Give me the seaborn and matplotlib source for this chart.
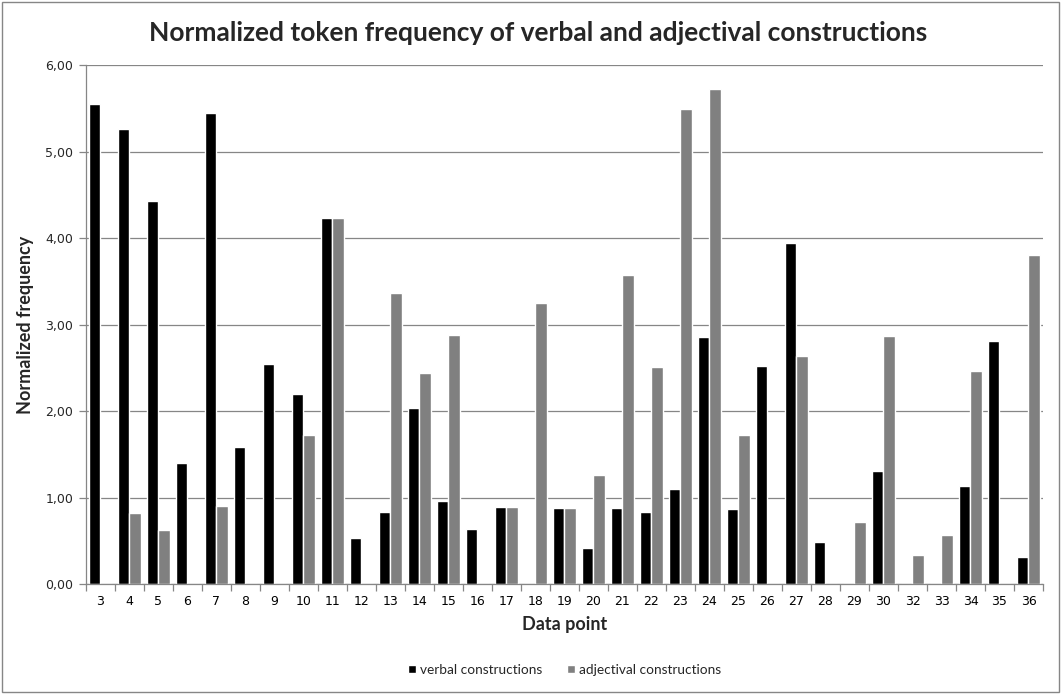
import pandas as pd
import matplotlib.pyplot as plt
import seaborn as sns
from matplotlib.ticker import FuncFormatter, FixedLocator

# --- data
data_points = ['3', '4', '5', '6', '7', '8', '9', '10', '11', '12', '13', '14', '15', '16', '17', '18',
               '19', '20', '21', '22', '23', '24', '25', '26', '27', '28', '29', '30', '32', '33', '34', '35', '36']
verbal = [5.55, 5.26, 4.43, 1.40, 5.45, 1.58, 2.55, 2.20, 4.23, 0.53, 0.83, 2.03, 0.96, 0.64, 0.89, 0.0,
          0.88, 0.42, 0.88, 0.83, 1.10, 2.86, 0.87, 2.52, 3.94, 0.49, 0.0, 1.31, 0.0, 0.0, 1.13, 2.81, 0.31]
adjectival = [0.0, 0.82, 0.62, 0.0, 0.90, 0.0, 0.0, 1.72, 4.23, 0.0, 3.36, 2.44, 2.88, 0.0, 0.89, 3.25,
              0.88, 1.26, 3.57, 2.51, 5.49, 5.72, 1.72, 0.0, 2.64, 0.0, 0.72, 2.87, 0.34, 0.57, 2.46, 0.0, 3.81]

df = pd.DataFrame({'point': data_points * 2,
                   'freq': verbal + adjectival,
                   'kind': ['verbal constructions'] * len(verbal) + ['adjectival constructions'] * len(adjectival)})

sns.set_theme(style='white')
plt.rcParams['font.family'] = ['DejaVu Sans']

fig = plt.figure(figsize=(10.61, 6.94), dpi=100)
ax = fig.add_axes([0.081, 0.1585, 0.902, 0.7475])

sns.barplot(data=df, x='point', y='freq', hue='kind', order=data_points,
            palette={'verbal constructions': 'black', 'adjectival constructions': '#808080'},
            width=0.8, gap=0, saturation=1, ax=ax)

# --- axes styling, Excel look
ax.set_ylim(0, 6)
ax.set_xlim(-0.5, len(data_points) - 0.5)
ax.set_yticks(range(0, 7))
ax.yaxis.set_major_formatter(FuncFormatter(lambda v, p: f'{v:.2f}'.replace('.', ',')))
ax.grid(axis='y', color='#868686', linewidth=0.9)
ax.set_axisbelow(True)
for s in ['top', 'right']:
    ax.spines[s].set_visible(False)
for s in ['left', 'bottom']:
    ax.spines[s].set_color('#868686')
    ax.spines[s].set_linewidth(0.9)

ax.tick_params(axis='x', which='major', length=0, pad=8, labelsize=9, colors='black')
ax.xaxis.set_minor_locator(FixedLocator([i - 0.5 for i in range(len(data_points) + 1)]))
ax.tick_params(axis='x', which='minor', length=5, color='#868686', width=0.9, bottom=True)
ax.tick_params(axis='y', which='major', length=5, color='#868686', width=0.9, left=True, labelsize=9, pad=4)

ax.set_xlabel('Data point', fontsize=13, fontweight='bold', family=['Lato', 'DejaVu Sans'], labelpad=6)
ax.set_ylabel('Normalized frequency', fontsize=13, fontweight='bold', family=['Lato', 'DejaVu Sans'], labelpad=8)
fig.suptitle('Normalized token frequency of verbal and adjectival constructions', x=0.507, y=0.97,
             fontsize=19, fontweight='bold', family=['Lato', 'DejaVu Sans'])

ax.legend(loc='upper center', bbox_to_anchor=(0.5, -0.13), ncol=2, frameon=False,
          handlelength=0.6, handleheight=0.6, handletextpad=0.3, columnspacing=1.8,
          prop={'size': 9.8, 'family': ['Lato', 'DejaVu Sans']})

# --- frame around the whole chart
fig.patches.append(plt.Rectangle((0.002, 0.003), 0.996, 0.994, transform=fig.transFigure,
                                 fill=False, edgecolor='#868686', linewidth=1))

plt.savefig('out.png', dpi=100)
plt.close(fig)
